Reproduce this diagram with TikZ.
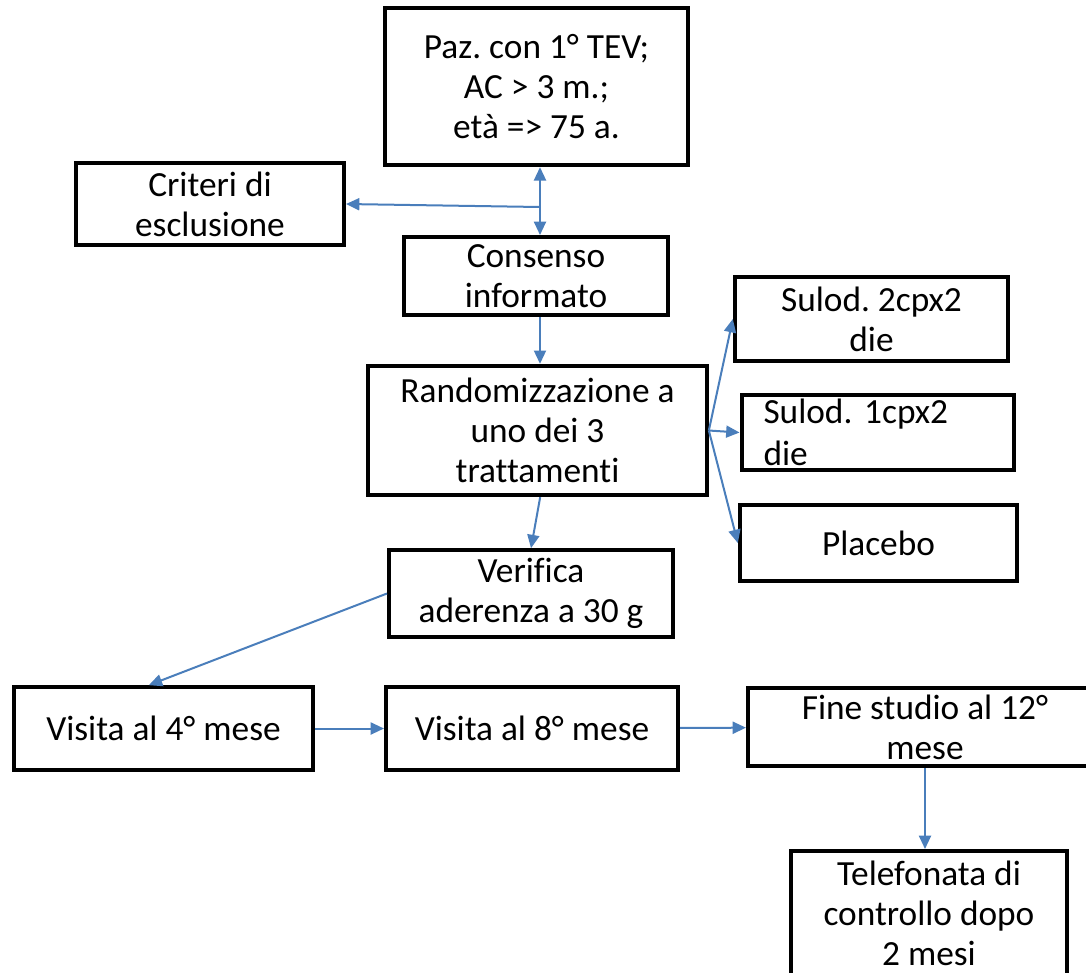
\documentclass[tikz,border=0pt]{standalone}
\usepackage{fontspec}
\setmainfont{Carlito}[Ligatures=NoCommon]
\usepackage{xcolor}
\usetikzlibrary{
    arrows.meta,
    positioning
}
\definecolor{arrowblue}{HTML}{4A7EBB}
\frenchspacing

\begin{document}
\begin{tikzpicture}[
    x=0.75pt, y=-0.75pt,
    box/.style={
        draw,
        line width=3pt,
        inner sep=2pt,
        align=center,
        font=\fontsize{26.5}{30}\selectfont
    },
    arr/.style={
        -{Triangle[length=10pt,width=9pt]},
        line width=1.5pt,
        draw=arrowblue,
        fill=arrowblue
    }
]
\useasboundingbox (0,0) rectangle (1086,972);

\node[box, minimum width=227pt, minimum height=118pt] (paz) at (536.5,86.5)
{Paz. con 1° TEV;\\AC > 3 m.;\\età => 75 a.};

\node[box, minimum width=201pt, minimum height=61.5pt] (criteri) at (210,204)
{Criteri di\\esclusione};

\node[box, minimum width=198pt, minimum height=58.5pt] (consenso) at (536,276)
{Consenso\\informato};

\node[box, minimum width=254pt, minimum height=97pt] (random) at (537.5,430.5)
{Randomizzazione a\\uno dei 3\\trattamenti};

\node[box, minimum width=205pt, minimum height=63pt] (sulod2) at (871.5,319)
{Sulod. 2cpx2\\die};

\node[box, align=left, text width=171pt, inner xsep=16.5pt,
minimum height=56pt] (sulod1) at (877.5,432.5)
{Sulod.\ 1cpx2\\[2pt]die};

\node[box, minimum width=208pt, minimum height=57pt] (placebo) at (878.5,543)
{Placebo};

\node[box, minimum width=213pt, minimum height=65pt] (verifica) at (531,593.5)
{Verifica\\aderenza a 30 g};

\node[box, minimum width=224pt, minimum height=62pt] (visita4) at (163.5,728.5)
{Visita al 4° mese};

\node[box, minimum width=219pt, minimum height=62pt] (visita8) at (532,728.5)
{Visita al 8° mese};

% box runs past the right edge
\node[box, minimum width=265.5pt, minimum height=58.5pt] (fine) at (925,727)
{Fine studio al 12°\\mese};

\node[box, minimum width=207pt, minimum height=93pt] (telefonata) at (929,913)
{Telefonata di\\controllo dopo\\2 mesi};

\coordinate (junc) at (540,207);

\draw[arr, {Triangle[length=10pt,width=9pt]}-{Triangle[length=10pt,width=9pt]}]
(paz.south -| junc) -- (consenso.north -| junc);
\draw[arr] (junc) -- (criteri.east);
\draw[arr] (consenso.south -| junc) -- (random.north -| junc);
\draw[arr] (random.east) -- (sulod2.west);
\draw[arr] (random.east) -- (sulod1.west);
\draw[arr] (random.east) -- (placebo.west);
\draw[arr] ([xshift=2pt]random.south) -- (verifica.north);
\draw[arr] (verifica.west) -- ([xshift=-11pt]visita4.north);
\draw[arr] (visita4) -- (visita8);
\draw[arr] (visita8) -- (fine);
\draw[arr] (fine.south) -- (fine.south |- telefonata.north);

\end{tikzpicture}
\end{document}
